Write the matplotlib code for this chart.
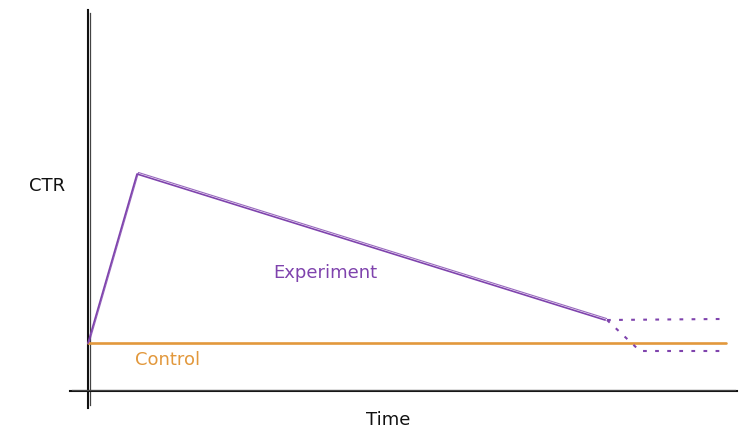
import matplotlib.pyplot as plt

# Sketch of CTR over time (hand-drawn style), units are arbitrary
# time axis origin at 0, CTR baseline at 0
exp_time = [0, 49, 517]
exp_ctr = [48, 217, 71]

# after the experiment: two possible outcomes (dotted)
up_time = [519, 632]
up_ctr = [71, 72]
down_time = [519, 552, 632]
down_ctr = [71, 40, 40]

ctrl_time = [0, 638]
ctrl_ctr = [48, 48]

purple = '#7f43ad'
orange = '#e2983c'

fig = plt.figure(figsize=(7.49, 4.46), dpi=100)
ax = fig.add_axes([0, 0, 1, 1])
ax.set_xlim(-88, 661)
ax.set_ylim(-55, 391)
ax.axis('off')

# axes drawn by hand
ax.plot([0, 0], [381, -17], color='#111111', lw=1.5)
ax.plot([1.5, 1.5], [378, -14], color='#444444', lw=0.9)
ax.plot([-18, 649], [0, 0], color='#111111', lw=1.5)
ax.plot([-16, 647], [1.2, 1.2], color='#444444', lw=0.9)

# control
ax.plot(ctrl_time, ctrl_ctr, color=orange, lw=1.9, solid_capstyle='round')

# experiment, double stroke
ax.plot(exp_time, exp_ctr, color=purple, lw=1.2)
ax.plot([t + 1.5 for t in exp_time], [c + 1.5 for c in exp_ctr], color=purple, lw=0.8, alpha=0.8)

ax.plot(up_time, up_ctr, color=purple, lw=1.5, linestyle=(0, (1.8, 4)))
ax.plot(down_time, down_ctr, color=purple, lw=1.5, linestyle=(0, (1.8, 4)))

ax.text(-41, 205, 'CTR', fontsize=13, color='#111111', ha='center', va='center')
ax.text(237, 118, 'Experiment', fontsize=13, color=purple, ha='center', va='center')
ax.text(80, 31, 'Control', fontsize=13, color=orange, ha='center', va='center')
ax.text(300, -29, 'Time', fontsize=13, color='#111111', ha='center', va='center')

plt.savefig('out.png')
